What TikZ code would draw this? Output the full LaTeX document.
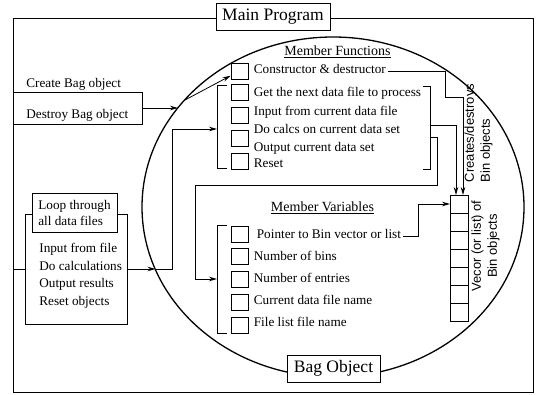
\documentclass[tikz,border=0pt]{standalone}
\usepackage{fontspec}
\setmainfont{Liberation Serif}
\setsansfont{Liberation Sans}
\usepackage{tikz}
\usetikzlibrary{arrows.meta}
\usetikzlibrary{positioning}

\newcommand{\txtsize}{\fontsize{13.2}{16}\selectfont}
\newcommand{\headsize}{\fontsize{14}{16}\selectfont}
\newcommand{\bigsize}{\fontsize{17.5}{20}\selectfont}
\newcommand{\sidesize}{\sffamily\fontsize{13}{16}\selectfont}

\tikzstyle{entry} = [anchor=west, inner sep=1.5pt, font=\txtsize, text height=9pt, text depth=3pt]
\tikzstyle{chk} = [rectangle, draw, minimum width=17pt, minimum height=16pt, inner sep=0pt]
\tikzstyle{cell} = [rectangle, draw, minimum width=18pt, minimum height=18pt, inner sep=0pt, outer sep=0pt]
\tikzstyle{titlebox} = [rectangle, draw, fill=white, font=\bigsize, inner sep=0pt, minimum height=27pt]
\tikzstyle{arrow} = [-{Stealth[length=8pt,width=4.5pt]}]

\begin{document}
\begin{tikzpicture}[x=1pt, y=-1pt, line width=0.8pt]

\useasboundingbox (0,0) rectangle (536,395);

% main program frame
\draw (13,18) rectangle (533,392);
\node (main) [titlebox, minimum width=114pt] at (273,16.5) {Main Program};

% the bag object
\draw [line width=1.3pt] (333,207) ellipse [x radius=191pt, y radius=170pt];
\node (bag) [titlebox, minimum width=93pt] at (333.5,368.5) {Bag Object};

\coordinate (rimA) at (178,108);
\coordinate (rimB) at (185,100);
\coordinate (rimC) at (155.5,269);
\coordinate (frameL) at (13,269);

% create / destroy
\node (bagio) [draw, minimum width=129pt, minimum height=32pt, inner sep=0pt, outer sep=0pt] at (77.5,108) {};
\node (create) [entry] at (24.5,85) {Create Bag object};
\node (destroy) [entry] at (24.5,116) {Destroy Bag object};

% loop over the data files
\node (loop) [draw, minimum width=102pt, minimum height=110pt, inner sep=0pt, outer sep=0pt] at (76,269) {};
\node (s1) [entry] at (37.5,250) {Input from file};
\node (s2) [entry] at (37.5,267.5) {Do calculations};
\node (s3) [entry] at (37.5,285) {Output results};
\node (s4) [entry] at (37.5,302.5) {Reset objects};
\node (loophead) [draw, fill=white, align=left, font=\txtsize, minimum width=85pt, minimum height=39pt, inner sep=0pt] at (74.5,212.5) {Loop through\\all data files};

% member functions
\node (mfhead) [font=\headsize] at (337.5,52) {\underline{Member Functions}};
\node (cb0) [chk] at (239.5,71) {};
\node (ctor) [entry] at (252,71) {Constructor \& destructor};
\node (cb1) [chk] at (239.5,92) {};
\node (cb2) [chk, below=6.5pt of cb1] {};
\node (cb3) [chk, below=6.5pt of cb2] {};
\node (cb4) [chk, below=6.5pt of cb3] {};
\node (f1) [entry] at (252,94) {Get the next data file to process};
\node (f2) [entry] at (252,112.5) {Input from current data file};
\node (f3) [entry] at (252,131) {Do calcs on current data set};
\node (f4) [entry] at (252,148.5) {Output current data set};
\node (f5) [entry] at (252,165) {Reset};
\draw (227,85) -- (217,85) -- (217,168) -- (227,168);
\draw (423,86) -- (430,86) -- (430,169) -- (423,169);
\coordinate (mfL) at (217,129);
\coordinate (mfR1) at (430,125);
\coordinate (mfR2) at (430,137);

% member variables
\node (mvhead) [font=\headsize] at (322.5,208) {\underline{Member Variables}};
\node (mv1) [chk] at (239.5,234) {};
\node (mv2) [chk, below=6pt of mv1] {};
\node (mv3) [chk, below=6pt of mv2] {};
\node (mv4) [chk, below=6pt of mv3] {};
\node (mv5) [chk, below=6pt of mv4] {};
\node (ptr) [entry] at (255,236) {Pointer to Bin vector or list};
\node (v2n) [entry] at (252,258) {Number of bins};
\node (v3n) [entry] at (252,280) {Number of entries};
\node (v4n) [entry] at (252,302) {Current data file name};
\node (v5n) [entry] at (252,324) {File list file name};
\draw (227,225) -- (217,225) -- (217,333) -- (227,333);
\coordinate (mvL) at (217,279);

% vector of bins
\node (v1) [cell] at (459,204) {};
\node (v2) [cell, below=0pt of v1] {};
\node (v3) [cell, below=0pt of v2] {};
\node (v4) [cell, below=0pt of v3] {};
\node (v5) [cell, below=0pt of v4] {};
\node (v6) [cell, below=0pt of v5] {};
\node (v7) [cell, below=0pt of v6] {};
\node (bintxt) [rotate=90, align=left, font=\sidesize] at (478.5,133) {Creates/destroys\\Bin objects};
\node (vectxt) [rotate=90, align=center, font=\sidesize] at (485.5,246) {Vecor (or list) of\\Bin objects};

% connections
\draw [arrow] (bagio) -- (rimA);
\draw [arrow] (rimB) -- (cb0);
\draw [arrow] (ctor.east) -| (445,97) -| ([xshift=4pt]v1.north);
\draw [arrow] (mfR1) -| ([xshift=-3pt]v1.north);
\draw [arrow] (mfR2) -| (437,185) -| (195,279) -- (mvL);
\draw (frameL) -- (loop.west);
\draw [arrow] (loop.east) -- (rimC);
\draw [arrow] (rimC) -| (172,129) -- (mfL);
\draw [arrow] (ptr.east) -| (418,204) -- (v1.west);

\end{tikzpicture}
\end{document}
